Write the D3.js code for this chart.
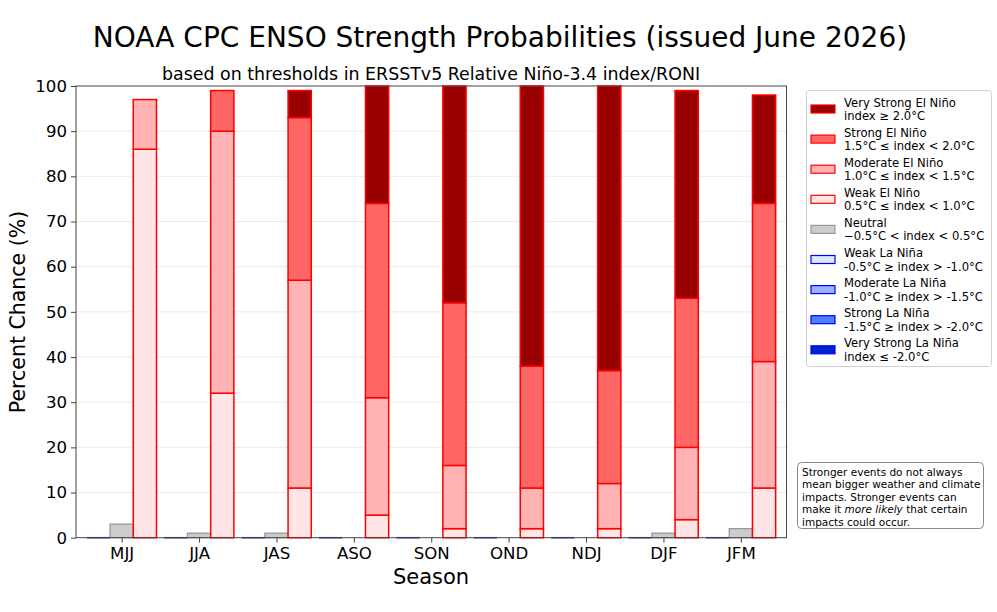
<!DOCTYPE html>
<html><head><meta charset="utf-8">
<script src="https://cdn.jsdelivr.net/npm/d3@7"></script>
<style>body{margin:0;background:#fff;} svg{font-family:"DejaVu Sans",sans-serif;}</style>
</head><body><svg id="c" width="997" height="612"></svg>
<script>
const seasons = ["MJJ","JJA","JAS","ASO","SON","OND","NDJ","DJF","JFM"];
const laNina = [0,0,0,0,0,0,0,0,0];
const neutral = [3,1,1,0,0,0,0,1,2];
const weakEl = [86,32,11,5,2,2,2,4,11];
const moderateEl = [11,58,46,26,14,9,10,16,28];
const strongEl = [0,9,36,43,36,27,25,33,35];
const veryStrongEl = [0,0,6,26,48,62,63,46,24];
const yTicks = [0,10,20,30,40,50,60,70,80,90,100];
const legendItems = [
  ["Very Strong El Niño","index ≥ 2.0°C","#990000","#ff0000"],
  ["Strong El Niño","1.5°C ≤ index < 2.0°C","#ff6666","#ff0000"],
  ["Moderate El Niño","1.0°C ≤ index < 1.5°C","#ffb3b3","#ff0000"],
  ["Weak El Niño","0.5°C ≤ index < 1.0°C","#ffe5e5","#ff0000"],
  ["Neutral","−0.5°C < index < 0.5°C","#cccccc","#999999"],
  ["Weak La Niña","-0.5°C ≥ index > -1.0°C","#dde8ff","#0000ff"],
  ["Moderate La Niña","-1.0°C ≥ index > -1.5°C","#99b3ff","#0000ff"],
  ["Strong La Niña","-1.5°C ≥ index > -2.0°C","#4d80ff","#0000ff"],
  ["Very Strong La Niña","index ≤ -2.0°C","#0022cc","#0000ff"]
];

const svg = d3.select("#c");
const L=76,R=786.5,T=86,B=537.7;
const x = d3.scaleLinear().domain([-0.59,8.59]).range([L,R]);
const y = d3.scaleLinear().domain([0,100]).range([B,T]);
const bw = x(0.3)-x(0);

// grid
svg.append("g").selectAll("line").data(yTicks.slice(1,-1)).join("line")
  .attr("x1",L).attr("x2",R).attr("y1",d=>y(d)).attr("y2",d=>y(d))
  .attr("stroke","#e6e6e6").attr("stroke-width",0.8);

// La Nina zero bars (line)
svg.append("g").selectAll("rect").data(laNina).join("rect")
  .attr("x",(d,i)=>x(i-0.3)-bw/2).attr("width",bw)
  .attr("y",d=>y(d)-0.75).attr("height",1.5).attr("fill","#22229a");

// neutral
svg.append("g").selectAll("rect").data(neutral).join("rect")
  .attr("x",(d,i)=>x(i)-bw/2).attr("width",bw)
  .attr("y",d=>y(d)).attr("height",d=>y(0)-y(d))
  .attr("fill","#cccccc").attr("stroke","#999999").attr("stroke-width",1.3);

// El Nino stacks
const layers = [[weakEl,"#ffe5e5"],[moderateEl,"#ffb3b3"],[strongEl,"#ff6666"],[veryStrongEl,"#990000"]];
const gEl = svg.append("g");
seasons.forEach((s,i)=>{
  let base=0;
  layers.forEach(([arr,col])=>{
    const v=arr[i];
    if(v>0){
      gEl.append("rect").attr("x",x(i+0.3)-bw/2).attr("width",bw)
        .attr("y",y(base+v)).attr("height",y(base)-y(base+v))
        .attr("fill",col).attr("stroke","#ff0000").attr("stroke-width",1.5);
    }
    base+=v;
  });
});

// frame
svg.append("rect").attr("x",L).attr("y",T).attr("width",R-L).attr("height",B-T)
  .attr("fill","none").attr("stroke","#444").attr("stroke-width",1);

// axes
const ya = svg.append("g").attr("transform",`translate(${L},0)`)
  .call(d3.axisLeft(y).tickValues(yTicks).tickSize(5).tickPadding(4));
ya.select(".domain").remove();
ya.selectAll("text").attr("font-size",16.6).attr("fill","#000").attr("font-family","DejaVu Sans");
ya.selectAll("line").attr("stroke","#444");
const xa = svg.append("g").attr("transform",`translate(0,${B})`)
  .call(d3.axisBottom(x).tickValues(d3.range(seasons.length)).tickFormat(i=>seasons[i]).tickSize(5).tickPadding(5));
xa.select(".domain").remove();
xa.selectAll("text").attr("font-size",16.6).attr("fill","#000").attr("font-family","DejaVu Sans");
xa.selectAll("line").attr("stroke","#444");

// titles
svg.append("text").attr("x",500).attr("y",47).attr("text-anchor","middle")
  .attr("font-size",28).text("NOAA CPC ENSO Strength Probabilities (issued June 2026)");
svg.append("text").attr("x",431).attr("y",80).attr("text-anchor","middle")
  .attr("font-size",17.4).text("based on thresholds in ERSSTv5 Relative Niño-3.4 index/RONI");
svg.append("text").attr("x",431).attr("y",584).attr("text-anchor","middle")
  .attr("font-size",21).text("Season");
svg.append("text").attr("transform","translate(25,312) rotate(-90)").attr("text-anchor","middle")
  .attr("font-size",20.5).text("Percent Chance (%)");

// legend
const lg = svg.append("g");
lg.append("rect").attr("x",806.5).attr("y",90.5).attr("width",185).attr("height",276).attr("rx",3)
  .attr("fill","#fff").attr("stroke","#d0d0d0");
legendItems.forEach((it,k)=>{
  const yy = 96+k*30.1;
  lg.append("rect").attr("x",811).attr("y",yy+9).attr("width",24).attr("height",8)
    .attr("fill",it[2]).attr("stroke",it[3]).attr("stroke-width",1.2);
  lg.append("text").attr("x",844).attr("y",yy+10.5).attr("font-size",11.6).text(it[0]);
  lg.append("text").attr("x",844).attr("y",yy+24).attr("font-size",11.6).text(it[1]);
});

// note
const ng = svg.append("g");
ng.append("rect").attr("x",797.5).attr("y",462.5).attr("width",186).attr("height",66).attr("rx",4)
  .attr("fill","#fff").attr("stroke","#888");
const noteLines = ["Stronger events do not always","mean bigger weather and climate","impacts. Stronger events can",null,"impacts could occur."];
noteLines.forEach((t,k)=>{
  const tx = ng.append("text").attr("x",802).attr("y",475.5+k*12.5).attr("font-size",10.5);
  if(t) tx.text(t);
  else { tx.append("tspan").text("make it "); tx.append("tspan").attr("font-style","italic").text("more likely"); tx.append("tspan").text(" that certain"); }
});
</script></body></html>
